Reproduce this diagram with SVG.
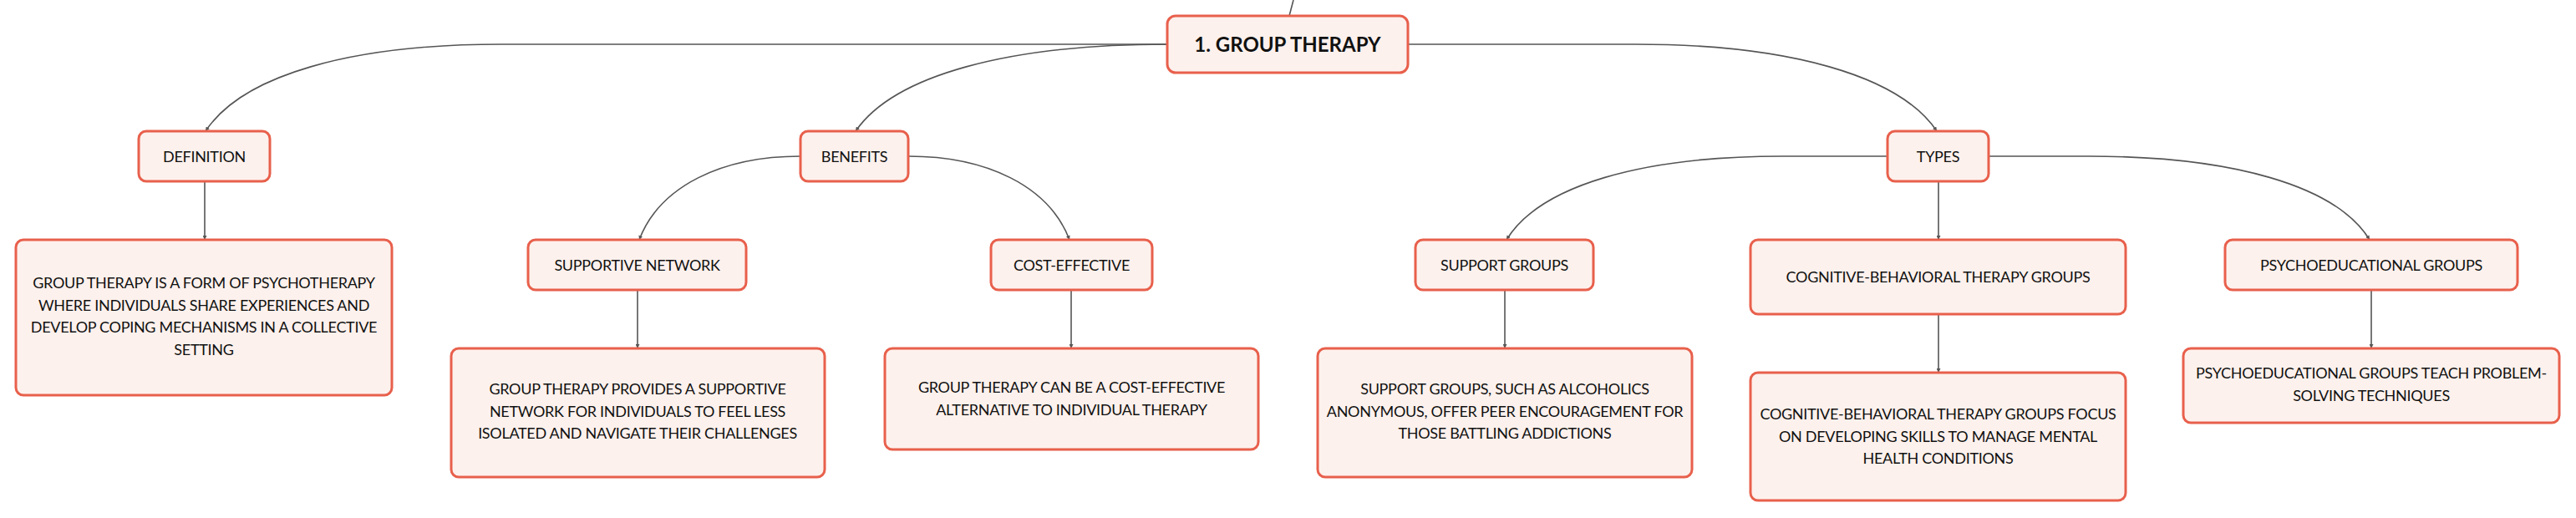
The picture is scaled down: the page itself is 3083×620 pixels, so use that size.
<svg xmlns="http://www.w3.org/2000/svg" width="3083" height="620" viewBox="0 0 3083 620">
<defs>
<style>
.box{fill:#fdf1ed;stroke:#e8604c;stroke-width:3}
.t{font-family:Lato,"Noto Sans",sans-serif;font-size:18px;letter-spacing:-0.3px;fill:#111;text-anchor:middle}
.root{font-family:Lato,"Noto Sans",sans-serif;font-size:24px;font-weight:bold;fill:#111;text-anchor:middle}
.c{fill:none;stroke:#555;stroke-width:1.6}
</style>
<marker id="ah" viewBox="0 0 6 6" refX="6" refY="3" markerWidth="5" markerHeight="5" orient="auto" markerUnits="userSpaceOnUse">
<path d="M0,0 L6,3 L0,6 z" fill="#555"/>
</marker>
</defs>
<rect width="3083" height="620" fill="#ffffff"/>
<g id="connectors">
<path class="c" d="M1543,19 L1548,0"/>
<path class="c" marker-end="url(#ah)" d="M1397,53 L600,53 C420,53 290,90 246,157"/>
<path class="c" marker-end="url(#ah)" d="M1397,53 C1207,53 1070,90 1024,157"/>
<path class="c" marker-end="url(#ah)" d="M1685,53 L1957,53 C2140,53 2273,90 2318,157"/>
<path class="c" marker-end="url(#ah)" d="M958,187 C865,187 790,222 765,287"/>
<path class="c" marker-end="url(#ah)" d="M1087,187 C1180,187 1255,222 1280,287"/>
<path class="c" marker-end="url(#ah)" d="M2259,187 L2133,187 C1965,187 1843,222 1803,287"/>
<path class="c" marker-end="url(#ah)" d="M2380,187 L2500,187 C2671,187 2796,222 2836,287"/>
<path class="c" marker-end="url(#ah)" d="M2320,217 L2320,287"/>
<path class="c" marker-end="url(#ah)" d="M245,217 L245,287"/>
<path class="c" marker-end="url(#ah)" d="M763,347 L763,417"/>
<path class="c" marker-end="url(#ah)" d="M1282,347 L1282,417"/>
<path class="c" marker-end="url(#ah)" d="M1801,347 L1801,417"/>
<path class="c" marker-end="url(#ah)" d="M2320,376 L2320,446"/>
<path class="c" marker-end="url(#ah)" d="M2838,347 L2838,417"/>
</g>
<g id="root">
<rect class="box" x="1397" y="19" width="288" height="68" rx="10"/>
<text class="root" x="1541" y="62">1. GROUP THERAPY</text>
</g>
<g id="definition">
<rect class="box" x="166" y="157" width="157" height="60" rx="9"/>
<text class="t" x="244.5" y="194">DEFINITION</text>
</g>
<g id="definition-text">
<rect class="box" x="19" y="287" width="450" height="186" rx="9"/>
<text class="t" x="244" y="345">GROUP THERAPY IS A FORM OF PSYCHOTHERAPY</text>
<text class="t" x="244" y="371.7">WHERE INDIVIDUALS SHARE EXPERIENCES AND</text>
<text class="t" x="244" y="398.4">DEVELOP COPING MECHANISMS IN A COLLECTIVE</text>
<text class="t" x="244" y="425">SETTING</text>
</g>
<g id="benefits">
<rect class="box" x="958" y="157" width="129" height="60" rx="9"/>
<text class="t" x="1022.5" y="194">BENEFITS</text>
</g>
<g id="supportive-network">
<rect class="box" x="632" y="287" width="261" height="60" rx="9"/>
<text class="t" x="762.5" y="324">SUPPORTIVE NETWORK</text>
</g>
<g id="supportive-network-text">
<rect class="box" x="540" y="417" width="447" height="154" rx="9"/>
<text class="t" x="763" y="472">GROUP THERAPY PROVIDES A SUPPORTIVE</text>
<text class="t" x="763" y="498.7">NETWORK FOR INDIVIDUALS TO FEEL LESS</text>
<text class="t" x="763" y="525.4">ISOLATED AND NAVIGATE THEIR CHALLENGES</text>
</g>
<g id="cost-effective">
<rect class="box" x="1186" y="287" width="193" height="60" rx="9"/>
<text class="t" x="1282.5" y="324">COST-EFFECTIVE</text>
</g>
<g id="cost-effective-text">
<rect class="box" x="1059" y="417" width="447" height="121" rx="9"/>
<text class="t" x="1282.5" y="470">GROUP THERAPY CAN BE A COST-EFFECTIVE</text>
<text class="t" x="1282.5" y="496.7">ALTERNATIVE TO INDIVIDUAL THERAPY</text>
</g>
<g id="types">
<rect class="box" x="2259" y="157" width="121" height="60" rx="9"/>
<text class="t" x="2319.5" y="194">TYPES</text>
</g>
<g id="support-groups">
<rect class="box" x="1694" y="287" width="213" height="60" rx="9"/>
<text class="t" x="1800.5" y="324">SUPPORT GROUPS</text>
</g>
<g id="support-groups-text">
<rect class="box" x="1577" y="417" width="448" height="154" rx="9"/>
<text class="t" x="1801" y="472">SUPPORT GROUPS, SUCH AS ALCOHOLICS</text>
<text class="t" x="1801" y="498.7">ANONYMOUS, OFFER PEER ENCOURAGEMENT FOR</text>
<text class="t" x="1801" y="525.4">THOSE BATTLING ADDICTIONS</text>
</g>
<g id="cbt-groups">
<rect class="box" x="2095" y="287" width="449" height="89" rx="9"/>
<text class="t" x="2319.5" y="338">COGNITIVE-BEHAVIORAL THERAPY GROUPS</text>
</g>
<g id="cbt-groups-text">
<rect class="box" x="2095" y="446" width="449" height="153" rx="9"/>
<text class="t" x="2319.5" y="502">COGNITIVE-BEHAVIORAL THERAPY GROUPS FOCUS</text>
<text class="t" x="2319.5" y="528.7">ON DEVELOPING SKILLS TO MANAGE MENTAL</text>
<text class="t" x="2319.5" y="555.4">HEALTH CONDITIONS</text>
</g>
<g id="psychoeducational-groups">
<rect class="box" x="2663" y="287" width="350" height="60" rx="9"/>
<text class="t" x="2838" y="324">PSYCHOEDUCATIONAL GROUPS</text>
</g>
<g id="psychoeducational-groups-text">
<rect class="box" x="2613" y="417" width="450" height="89" rx="9"/>
<text class="t" x="2838" y="453">PSYCHOEDUCATIONAL GROUPS TEACH PROBLEM-</text>
<text class="t" x="2838" y="480">SOLVING TECHNIQUES</text>
</g>
</svg>
